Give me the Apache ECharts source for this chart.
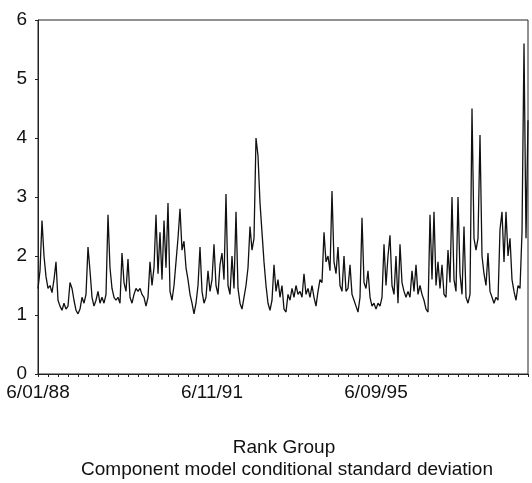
<!DOCTYPE html>
<html>
<head>
<meta charset="utf-8">
<script src="https://cdn.jsdelivr.net/npm/echarts@6/dist/echarts.min.js"></script>
<style>
html,body{margin:0;padding:0;background:#fff;}
#c{width:532px;height:483px;}
</style>
</head>
<body>
<div id="c"></div>
<script>
// Conditional standard deviation, sampled along the observation axis
const sdValues = [
1.45,1.75,2.6,2.0,1.65,1.45,1.5,1.38,1.6,1.9,
1.25,1.15,1.08,1.2,1.1,1.15,1.55,1.45,1.25,1.08,
1.02,1.1,1.3,1.2,1.35,2.15,1.75,1.3,1.15,1.25,
1.4,1.2,1.3,1.2,1.35,2.7,1.8,1.45,1.3,1.25,
1.3,1.2,2.05,1.55,1.4,1.95,1.3,1.2,1.35,1.45,
1.4,1.45,1.35,1.3,1.15,1.3,1.9,1.5,1.8,2.7,
1.7,2.4,1.6,2.6,1.8,2.9,1.4,1.25,1.5,1.9,
2.3,2.8,2.1,2.25,1.8,1.6,1.35,1.2,1.02,1.2,
1.5,2.15,1.4,1.2,1.3,1.75,1.4,1.6,2.2,1.5,
1.35,1.85,2.05,1.6,3.05,1.5,1.35,2.0,1.45,2.75,
1.45,1.2,1.1,1.3,1.5,1.8,2.5,2.1,2.3,4.0,
3.7,2.9,2.4,1.9,1.5,1.2,1.08,1.25,1.85,1.4,
1.6,1.3,1.5,1.1,1.05,1.35,1.25,1.45,1.3,1.5,
1.35,1.4,1.3,1.7,1.35,1.45,1.3,1.5,1.3,1.15,
1.4,1.6,1.55,2.4,1.9,2.0,1.75,3.1,1.9,1.7,
2.15,1.5,1.4,2.0,1.4,1.45,1.85,1.35,1.25,1.15,
1.05,1.3,2.65,1.55,1.45,1.75,1.3,1.15,1.2,1.1,
1.2,1.15,1.3,2.2,1.5,2.0,2.35,1.5,1.35,2.0,
1.2,2.2,1.55,1.4,1.3,1.4,1.3,1.75,1.4,1.85,
1.35,1.5,1.35,1.25,1.1,1.05,2.7,1.6,2.75,1.5,
1.9,1.45,1.85,1.35,1.3,2.1,1.55,3.0,1.6,1.4,
3.0,1.7,1.35,2.5,1.3,1.2,1.35,4.5,2.3,2.1,
2.3,4.05,2.0,1.7,1.5,2.05,1.4,1.3,1.2,1.3,
1.25,2.45,2.75,1.9,2.75,2.0,2.3,1.6,1.4,1.25,
1.5,1.45,2.4,5.6,2.3,4.3
];
const tickLabels = ['6/01/88', '6/11/91', '6/09/95'];
const tickLabelIndex = [0, 87, 169];
const yTicks = [0, 1, 2, 3, 4, 5, 6];
const titleLines = ['Rank Group', 'Component model conditional standard deviation'];

const categories = sdValues.map((_, i) => String(i));
const FONT = '"Liberation Sans", Arial, sans-serif';

const chart = echarts.init(document.getElementById('c'), null, {renderer: 'canvas'});
chart.setOption({
  animation: false,
  backgroundColor: '#fff',
  grid: {left: 38, right: 4, top: 20, bottom: 109, show: true, borderColor: '#222', borderWidth: 1, containLabel: false},
  xAxis: {
    type: 'category',
    data: categories,
    boundaryGap: false,
    axisLine: {show: true, lineStyle: {color: '#222', width: 1}},
    axisTick: {show: true, interval: 4, length: 3, lineStyle: {color: '#222'}},
    axisLabel: {
      show: true,
      interval: (idx) => tickLabelIndex.includes(idx),
      formatter: (val, idx) => {
        const k = tickLabelIndex.indexOf(Number(val));
        return k >= 0 ? tickLabels[k] : '';
      },
      color: '#111', fontSize: 19, fontFamily: FONT, margin: 9
    },
    splitLine: {show: false}
  },
  yAxis: {
    type: 'value',
    min: yTicks[0], max: yTicks[yTicks.length - 1], interval: 1,
    axisLine: {show: true, lineStyle: {color: '#222', width: 1}},
    axisTick: {show: true, length: 3, lineStyle: {color: '#222'}},
    axisLabel: {color: '#111', fontSize: 19, fontFamily: FONT, margin: 11},
    splitLine: {show: false}
  },
  series: [{
    type: 'line',
    data: sdValues,
    showSymbol: false,
    symbol: 'none',
    lineStyle: {color: '#111', width: 1.3},
    silent: true
  }],
  graphic: [
    {type: 'text', x: 284, y: 448, style: {text: titleLines[0], fill: '#111', font: '19px ' + FONT, textAlign: 'center', textVerticalAlign: 'middle'}},
    {type: 'text', x: 287, y: 470, style: {text: titleLines[1], fill: '#111', font: '19px ' + FONT, textAlign: 'center', textVerticalAlign: 'middle'}}
  ]
});
</script>
</body>
</html>
